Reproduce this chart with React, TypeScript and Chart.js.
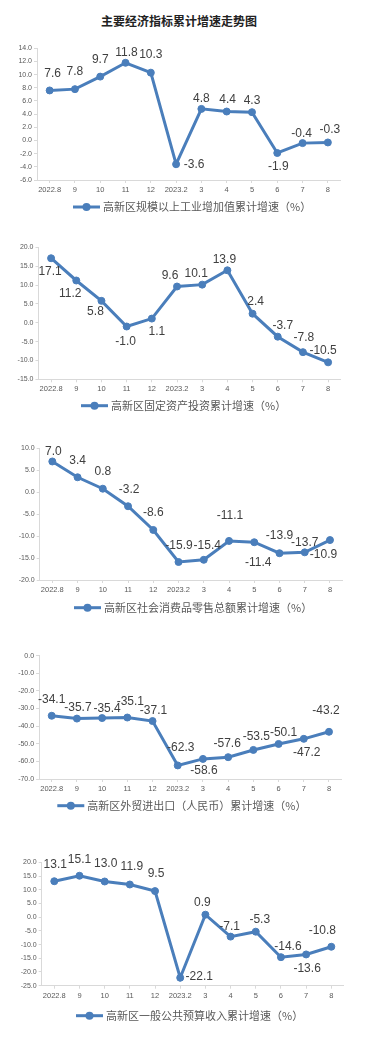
import React, { useEffect, useRef } from "react";
import { Chart, registerables } from "chart.js";

Chart.register(...registerables);

const pageTitle = "主要经济指标累计增速走势图";

const categories = ["2022.8", "9", "10", "11", "12", "2023.2", "3", "4", "5", "6", "7", "8"];

const industrialName = "高新区规模以上工业增加值累计增速（%）";
const industrialValues = [7.6, 7.8, 9.7, 11.8, 10.3, -3.6, 4.8, 4.4, 4.3, -1.9, -0.4, -0.3];
const industrialTicks = { min: -6, max: 14, step: 2 };

const investmentName = "高新区固定资产投资累计增速（%）";
const investmentValues = [17.1, 11.2, 5.8, -1.0, 1.1, 9.6, 10.1, 13.9, 2.4, -3.7, -7.8, -10.5];
const investmentTicks = { min: -15, max: 20, step: 5 };

const retailName = "高新区社会消费品零售总额累计增速（%）";
const retailValues = [7.0, 3.4, 0.8, -3.2, -8.6, -15.9, -15.4, -11.1, -11.4, -13.9, -13.7, -10.9];
const retailTicks = { min: -20, max: 10, step: 5 };

const tradeName = "高新区外贸进出口（人民币）累计增速（%）";
const tradeValues = [-34.1, -35.7, -35.4, -35.1, -37.1, -62.3, -58.6, -57.6, -53.5, -50.1, -47.2, -43.2];
const tradeTicks = { min: -70, max: 0, step: 10 };

const revenueName = "高新区一般公共预算收入累计增速（%）";
const revenueValues = [13.1, 15.1, 13.0, 11.9, 9.5, -22.1, 0.9, -7.1, -5.3, -14.6, -13.6, -10.8];
const revenueTicks = { min: -25, max: 20, step: 5 };

const BLUE = "#4a7ebb";
const AXIS = "#d9d9d9";
const TICK_TEXT = "#595959";
const LABEL_TEXT = "#404040";
const LATIN = '"Liberation Sans", Arial, sans-serif';
const CJK = '"Noto Sans CJK SC", sans-serif';

type Spec = {
  name: string;
  values: number[];
  ticks: { min: number; max: number; step: number };
  top: number;
  height: number;
  plotTop: number;
  plotBottom: number;
  plotLeft: number;
  plotRight: number;
  legendX: number;
  legendDy: number;
  labelOffsets: number[][];
};

const specs: Spec[] = [
  {
    name: industrialName, values: industrialValues, ticks: industrialTicks,
    top: 30, height: 190, plotTop: 48.3, plotBottom: 180, plotLeft: 37, plotRight: 340.5,
    legendX: 73, legendDy: 27,
    labelOffsets: [[3, -17], [0, -17.5], [0, -17], [1, -10.5], [0, -17.5], [18, 0], [0, -10], [1, -12], [0, -11], [1, 13.5], [-1, -9], [2, -13]],
  },
  {
    name: investmentName, values: investmentValues, ticks: investmentTicks,
    top: 220, height: 200, plotTop: 247.3, plotBottom: 379.3, plotLeft: 38.5, plotRight: 340.7,
    legendX: 81, legendDy: 26.4,
    labelOffsets: [[-1, 13], [-6, 13], [-6, 10.5], [-1, 15.5], [5, 13], [-7, -11], [-6, -10.5], [-3, -10.5], [3, -11.5], [5, -11], [1, -14.5], [-5, -12]],
  },
  {
    name: retailName, values: retailValues, ticks: retailTicks,
    top: 420, height: 200, plotTop: 448.3, plotBottom: 580, plotLeft: 39.7, plotRight: 342.6,
    legendX: 74, legendDy: 27.7,
    labelOffsets: [[1, -10], [0, -16.5], [0, -17.5], [1, -16.5], [0, -17], [0.5, -16.5], [3.5, -14.5], [1, -25], [4, 20], [0, -18], [0, -10], [-6.5, 15]],
  },
  {
    name: tradeName, values: tradeValues, ticks: tradeTicks,
    top: 620, height: 205, plotTop: 655.7, plotBottom: 779, plotLeft: 39.1, plotRight: 341.6,
    legendX: 57.3, legendDy: 26.7,
    labelOffsets: [[0, -16.5], [1, -10.5], [5, -9], [3, -15.5], [1, -10], [3, -17.5], [1, 11.5], [-1, -13.5], [3, -13.5], [5, -11], [3, 13.5], [-3, -21.5]],
  },
  {
    name: revenueName, values: revenueValues, ticks: revenueTicks,
    top: 830, height: 216, plotTop: 862.3, plotBottom: 985.7, plotLeft: 41.7, plotRight: 343.9,
    legendX: 76, legendDy: 30,
    labelOffsets: [[1, -17], [0, -16.5], [1, -17.5], [2, -18], [1, -17], [19, -1], [-3, -12], [-1, -9.5], [4, -11.5], [7, -10.5], [1, 14.5], [-9, -16.5]],
  },
];

function LineChart({ spec }: { spec: Spec }) {
  const ref = useRef<HTMLCanvasElement>(null);
  useEffect(() => {
    const canvas = ref.current;
    if (!canvas) return;
    const xAxisH = 20;
    const padTop = spec.plotTop - spec.top;
    const padBottom = spec.top + spec.height - spec.plotBottom - xAxisH;

    const labelPlugin = {
      id: "valueLabels",
      afterDatasetsDraw(chart: any) {
        const ctx = chart.ctx;
        const meta = chart.getDatasetMeta(0);
        ctx.save();
        ctx.font = `12px ${LATIN}`;
        ctx.fillStyle = LABEL_TEXT;
        ctx.textAlign = "center";
        ctx.textBaseline = "middle";
        meta.data.forEach((pt: any, i: number) => {
          const off = spec.labelOffsets[i] || [0, -14];
          ctx.fillText(spec.values[i].toFixed(1), pt.x + off[0], pt.y + off[1]);
        });
        ctx.restore();
      },
    };

    const legendPlugin = {
      id: "customLegend",
      afterDraw(chart: any) {
        const ctx = chart.ctx;
        const y = chart.chartArea.bottom + spec.legendDy;
        const x0 = spec.legendX;
        ctx.save();
        ctx.strokeStyle = BLUE;
        ctx.lineWidth = 3;
        ctx.beginPath();
        ctx.moveTo(x0, y);
        ctx.lineTo(x0 + 27, y);
        ctx.stroke();
        ctx.fillStyle = BLUE;
        ctx.beginPath();
        ctx.arc(x0 + 13.5, y, 4, 0, Math.PI * 2);
        ctx.fill();
        ctx.font = `11px ${CJK}`;
        ctx.fillStyle = TICK_TEXT;
        ctx.textAlign = "left";
        ctx.textBaseline = "middle";
        ctx.fillText(spec.name, x0 + 30, y);
        ctx.restore();
      },
    };

    const chart = new Chart(canvas, {
      type: "line",
      data: {
        labels: categories,
        datasets: [
          {
            label: spec.name,
            data: spec.values,
            borderColor: BLUE,
            backgroundColor: BLUE,
            borderWidth: 3,
            pointRadius: 3.5,
            pointBackgroundColor: BLUE,
            pointBorderColor: BLUE,
            pointBorderWidth: 1,
            tension: 0,
            fill: false,
          },
        ],
      },
      options: {
        animation: false,
        responsive: false,
        devicePixelRatio: 1,
        layout: {
          padding: { top: padTop, bottom: padBottom, left: 0, right: 376 - spec.plotRight },
        },
        plugins: {
          legend: { display: false },
          tooltip: { enabled: false },
          title: { display: false },
        },
        scales: {
          x: {
            type: "category",
            offset: true,
            grid: { drawOnChartArea: false, offset: false, tickLength: 3, color: AXIS, lineWidth: 1 },
            border: { color: AXIS, width: 1 },
            ticks: {
              autoSkip: false,
              maxRotation: 0,
              minRotation: 0,
              padding: 2.5,
              color: TICK_TEXT,
              font: { size: 7.5, family: LATIN },
            },
            afterFit: (s: any) => {
              s.height = xAxisH;
            },
          },
          y: {
            min: spec.ticks.min,
            max: spec.ticks.max,
            grid: { drawOnChartArea: false, tickLength: 3, color: AXIS, lineWidth: 1 },
            border: { color: AXIS, width: 1 },
            ticks: {
              stepSize: spec.ticks.step,
              padding: 2,
              color: TICK_TEXT,
              font: { size: 7, family: LATIN },
              callback: (v: any) => Number(v).toFixed(1),
            },
            afterFit: (s: any) => {
              s.width = spec.plotLeft;
            },
          },
        },
      },
      plugins: [labelPlugin, legendPlugin],
    } as any);
    return () => chart.destroy();
  }, [spec]);

  return (
    <canvas
      ref={ref}
      width={376}
      height={spec.height}
      style={{ position: "absolute", left: 0, top: spec.top, width: 376, height: spec.height, display: "block" }}
    />
  );
}

export default function App() {
  return (
    <div style={{ position: "absolute", left: 0, top: 0, width: 376, height: 1046, background: "#ffffff", overflow: "hidden" }}>
      <div
        style={{
          position: "absolute",
          left: 0,
          top: 12,
          width: 358,
          textAlign: "center",
          fontFamily: CJK,
          fontWeight: 700,
          fontSize: 12,
          lineHeight: "17px",
          color: "#222222",
        }}
      >
        {pageTitle}
      </div>
      {specs.map((s, i) => (
        <LineChart key={i} spec={s} />
      ))}
    </div>
  );
}
